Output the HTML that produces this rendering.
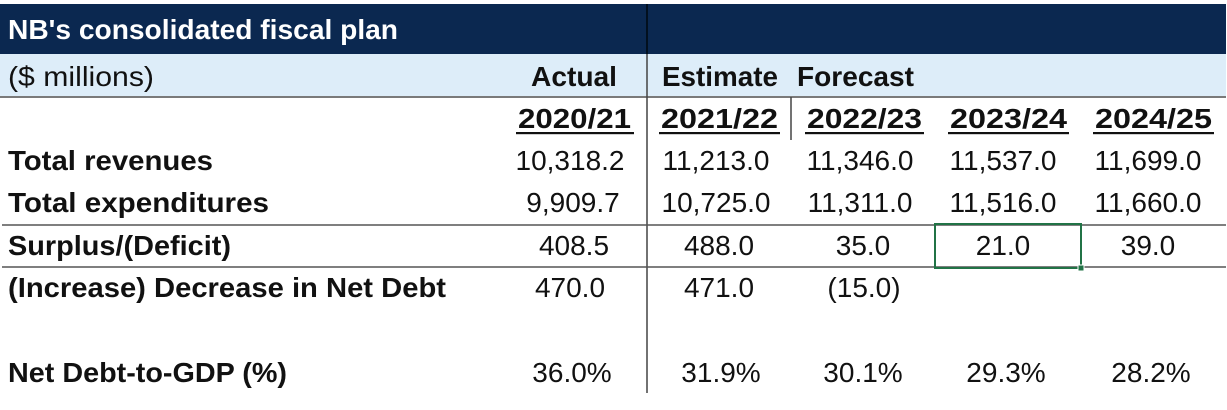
<!DOCTYPE html>
<html>
<head>
<meta charset="utf-8">
<style>
  html, body { margin: 0; padding: 0; background: #ffffff; }
  svg { display: block; }
  text { font-family: "Liberation Sans", Arial, sans-serif; font-size: 28px; fill: #111111; }
  .b { font-weight: bold; }
</style>
</head>
<body>
<svg width="1227" height="410" viewBox="0 0 1227 410" xmlns="http://www.w3.org/2000/svg">
  <rect x="0" y="0" width="1227" height="410" fill="#ffffff"/>
  <!-- header -->
  <rect x="0" y="4" width="1226" height="50" fill="#0b2850"/>
  <rect x="0" y="54" width="1226" height="43" fill="#ddedf9"/>
  <line x1="0" y1="97" x2="1226" y2="97" stroke="#7a7a7a" stroke-width="2"/>

  <!-- vertical lines -->
  <line x1="647" y1="4" x2="647" y2="54" stroke="#02101f" stroke-width="2"/>
  <line x1="647" y1="54" x2="647" y2="393" stroke="#444444" stroke-width="1.5"/>
  <line x1="791" y1="97" x2="791" y2="140" stroke="#444444" stroke-width="1.5"/>

  <!-- horizontal body lines -->
  <line x1="2" y1="225" x2="1226" y2="225" stroke="#555555" stroke-width="1.5"/>
  <line x1="2" y1="267" x2="1226" y2="267" stroke="#555555" stroke-width="1.5"/>

  <!-- title -->
  <text class="b" x="8" y="39" textLength="390" lengthAdjust="spacingAndGlyphs" style="fill:#ffffff">NB's consolidated fiscal plan</text>

  <!-- row 2 -->
  <text x="8" y="86" textLength="146" lengthAdjust="spacingAndGlyphs">($ millions)</text>
  <text class="b" x="531" y="86" textLength="86" lengthAdjust="spacingAndGlyphs">Actual</text>
  <text class="b" x="662" y="86" textLength="116" lengthAdjust="spacingAndGlyphs">Estimate</text>
  <text class="b" x="797" y="86" textLength="117" lengthAdjust="spacingAndGlyphs">Forecast</text>

  <!-- years -->
  <text class="b" x="518" y="128" textLength="113" lengthAdjust="spacingAndGlyphs">2020/21</text>
  <text class="b" x="661" y="128" textLength="117" lengthAdjust="spacingAndGlyphs">2021/22</text>
  <text class="b" x="807" y="128" textLength="115" lengthAdjust="spacingAndGlyphs">2022/23</text>
  <text class="b" x="950" y="128" textLength="117" lengthAdjust="spacingAndGlyphs">2023/24</text>
  <text class="b" x="1095" y="128" textLength="117" lengthAdjust="spacingAndGlyphs">2024/25</text>
  <g fill="#111111">
    <rect x="516" y="132" width="118" height="2.2"/>
    <rect x="659" y="132" width="121" height="2.2"/>
    <rect x="805" y="132" width="119" height="2.2"/>
    <rect x="948" y="132" width="121" height="2.2"/>
    <rect x="1093" y="132" width="121" height="2.2"/>
  </g>

  <!-- row labels -->
  <text class="b" x="8" y="170" textLength="205" lengthAdjust="spacingAndGlyphs">Total revenues</text>
  <text class="b" x="8" y="212" textLength="261" lengthAdjust="spacingAndGlyphs">Total expenditures</text>
  <text class="b" x="8" y="255" textLength="223" lengthAdjust="spacingAndGlyphs">Surplus/(Deficit)</text>
  <text class="b" x="8" y="297" textLength="438" lengthAdjust="spacingAndGlyphs">(Increase) Decrease in Net Debt</text>
  <text class="b" x="8" y="382" textLength="279" lengthAdjust="spacingAndGlyphs">Net Debt-to-GDP (%)</text>

  <!-- values -->
  <g text-anchor="middle">
    <text x="570" y="170">10,318.2</text>
    <text x="716" y="170">11,213.0</text>
    <text x="860" y="170">11,346.0</text>
    <text x="1003" y="170">11,537.0</text>
    <text x="1148" y="170">11,699.0</text>

    <text x="573" y="212">9,909.7</text>
    <text x="716" y="212">10,725.0</text>
    <text x="860" y="212">11,311.0</text>
    <text x="1003" y="212">11,516.0</text>
    <text x="1148" y="212">11,660.0</text>

    <text x="574" y="255">408.5</text>
    <text x="719" y="255">488.0</text>
    <text x="863" y="255">35.0</text>
    <text x="1003" y="255">21.0</text>
    <text x="1148" y="255">39.0</text>

    <text x="570" y="297">470.0</text>
    <text x="719" y="297">471.0</text>
    <text x="864" y="297">(15.0)</text>

    <text x="572" y="382">36.0%</text>
    <text x="721" y="382">31.9%</text>
    <text x="863" y="382">30.1%</text>
    <text x="1006" y="382">29.3%</text>
    <text x="1151" y="382">28.2%</text>
  </g>

  <!-- selected cell -->
  <rect x="935" y="224" width="146" height="44" fill="none" stroke="#217346" stroke-width="2"/>
  <rect x="1078" y="265" width="6" height="6" fill="#217346" stroke="#ffffff" stroke-width="1"/>
</svg>
</body>
</html>
